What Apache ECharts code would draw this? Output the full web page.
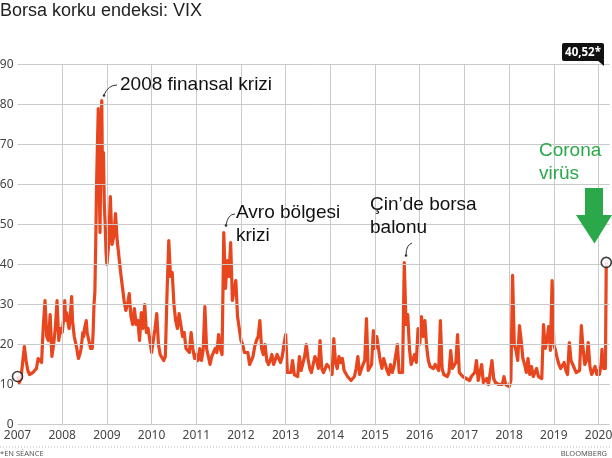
<!DOCTYPE html>
<html>
<head>
<meta charset="utf-8">
<script src="https://cdn.jsdelivr.net/npm/echarts@6/dist/echarts.min.js"></script>
<style>html,body{margin:0;padding:0;background:#fff}#c{width:612px;height:458px}</style>
</head>
<body>
<div id="c"></div>
<script>
// ---------- data ----------
const chartTitle = 'Borsa korku endeksi: VIX';
const xYears = [2007,2008,2009,2010,2011,2012,2013,2014,2015,2016,2017,2018,2019,2020];
const yTicks = [0,10,20,30,40,50,60,70,80,90];
const weeklyYears = [2008, 2020]; // other years: two-weekly readings

const vix2007 = [12,10.5,11.5,11,19.5,16,13.5,12.5,12.5,13,13,14,16.5,16,15.5,24.5,31,22,21,27.5,17,20,24,31,21,24];
const vix2008 = [23,25,27,31,26,28,27,25,24,26,29,32,26,24,22,21,20,19,17.5,16.5,17,18,19,21,23,22,24,25,26,23,22,21,21,19,20,19,23,30,33,45,60,70,79,62,48,66,81,60,68,55,50,43];
const vix2009 = [40,45,57,45,47,52.7,46,42,38,38.5,31,28.5,30,32.7,27,25,29,25,26,21,28,24,30,23,24,21];
const vix2010 = [18,21,24,27.7,20,17.5,17,16,17,33,46,37,38,30,26,24,27.7,25,22,23,19,18.5,18,23,19,16.5];
const vix2011 = [17.5,16,19,16,18.5,29.5,19,17,15,17,18,19,18,22.5,19,17.5,48,34,41,37,45.5,31,31,36,27,24];
const vix2012 = [21,20,18,17.5,18,15,15.5,17,19.5,21,22,26,19,17.5,20,16,15,16,17.5,15,15.5,17.5,18,15.5,17,20];
const vix2013 = [22.5,13,13.5,13,16,12.5,13,12,17,13.5,13.5,17,20,16.5,14,13,13,17,16,14,21,14,13,12.5,15,15.5];
const vix2014 = [14,12.5,21.5,15.5,14,17,15.5,16.5,13.5,13,12,11.5,11,11.5,12,14,17,12.5,12.5,15,16,26.5,13.5,13,15,23.5];
const vix2015 = [19,22,19,16,14,16.5,15,13.5,12.5,15,13,14.5,14,20,13,13,13,40.5,25,27.5,19,15,15.5,17.5,15.5,24];
const vix2016 = [20,27,22,26,19.5,16,14.5,15,14,15,14.5,13.5,26,14,12.5,12,12,13,18.5,14,14,15.5,22.5,13,12.5,12];
const vix2017 = [12,11.5,11,11,12,11.5,13,16,11,10.5,15,10.5,10.5,11.5,10,10.5,16,11.5,10.5,10,10,10,10,12,10,9.5];
const vix2018 = [9.5,11,37.3,20,18.5,16,24.7,21,16.5,15,13,16.5,12.5,14.5,12,13,14,12,12.5,11.5,25,19,21,24.5,18.5,36];
const vix2019 = [20,18.5,16.5,15,14,14,15.5,13.5,12.5,20.5,16,16.5,14,13,12.5,13.5,24.7,19,15,16,20.5,14.5,12.5,12.5,14.5,12.5];
const vix2020 = [13.5,12.5,12.5,15,18.8,15.5,14,15,14,40.52];

const lastLabel = '40,52*';
const noteCrisis = '2008 finansal krizi';
const noteEuro = ['Avro bölgesi', 'krizi'];
const noteChina = ['Çin’de borsa', 'balonu'];
const noteCorona = ['Corona', 'virüs'];
const footLeft = '*EN SÉANCE';
const footRight = 'BLOOMBERG';

// ---------- build ----------
const X_MIN = xYears[0], X_MAX = 2020.25;
const byYear = [vix2007,vix2008,vix2009,vix2010,vix2011,vix2012,vix2013,vix2014,vix2015,vix2016,vix2017,vix2018,vix2019,vix2020];
const pts = [];
xYears.forEach((y, k) => {
  const n = weeklyYears.includes(y) ? 52 : 26;
  byYear[k].forEach((v, i) => pts.push([y + i / n, v]));
});
const firstPt = pts[0], lastPt = pts[pts.length - 1];

const FONT = '"Liberation Sans", Arial, sans-serif';
const AXFONT = '"Noto Sans", sans-serif';
const GREEN = '#2aa84a';
const GRID = '#cacaca';

// horizontal and vertical grid lines, placed through the axes' scales
const hLines = yTicks.map(v => [{coord: [X_MIN, v]}, {coord: [X_MAX, v]}]);
const vLines = xYears.slice(1).map(y => [{coord: [y, yTicks[0]]}, {coord: [y, yTicks[yTicks.length - 1]]}]);

function txt(x, y, s, opt) {
  opt = opt || {};
  return {
    type: 'text', x: x, y: y, z: 20,
    style: {
      text: s,
      fill: opt.fill || '#111',
      font: opt.font || ('19px ' + FONT),
      textAlign: opt.align || 'left', align: opt.align || 'left',
      textVerticalAlign: 'middle', verticalAlign: 'middle'
    }
  };
}

const chart = echarts.init(document.getElementById('c'), null, {renderer: 'canvas'});
chart.setOption({
  animation: false,
  title: {
    text: chartTitle, left: 0, top: 2, padding: 0,
    textStyle: {fontSize: 18, fontWeight: 'normal', color: '#222', fontFamily: FONT}
  },
  grid: {left: 17.5, right: 2.3, top: 64.5, bottom: 33.5, containLabel: false, outerBoundsMode: 'none'},
  xAxis: {
    type: 'value', min: X_MIN, max: X_MAX, interval: 1,
    axisLine: {show: false}, axisTick: {show: false},
    axisLabel: {
      color: '#444', fontSize: 12, fontFamily: AXFONT, margin: 5, showMaxLabel: false,
      formatter: v => Math.abs(v - Math.round(v)) < 1e-6 && xYears.includes(Math.round(v)) ? String(Math.round(v)) : ''
    },
    splitLine: {show: false}
  },
  yAxis: {
    type: 'value', min: yTicks[0], max: yTicks[yTicks.length - 1], interval: 10,
    axisLine: {show: false}, axisTick: {show: false},
    axisLabel: {color: '#444', fontSize: 12, fontFamily: AXFONT, margin: 4},
    splitLine: {show: false}
  },
  series: [
    {
      type: 'line', data: pts, showSymbol: false, symbol: 'none', z: 3,
      lineStyle: {color: '#e8461e', width: 3.2, join: 'round'},
      markLine: {
        silent: true, symbol: ['none', 'none'], animation: false,
        label: {show: false},
        lineStyle: {color: GRID, width: 1, type: 'solid', opacity: 1},
        emphasis: {disabled: true},
        data: hLines.concat(vLines)
      }
    },
    {
      type: 'scatter', data: [firstPt, lastPt], symbol: 'circle', symbolSize: 10, z: 6,
      itemStyle: {color: '#fff', borderColor: '#111', borderWidth: 1.6}
    }
  ],
  graphic: [
    {type: 'rect', shape: {x: 562, y: 43, width: 42, height: 18, r: 2}, style: {fill: '#111'}, z: 20},
    {type: 'polygon', shape: {points: [[597, 60], [604, 60], [604, 66]]}, style: {fill: '#111'}, z: 20},
    txt(583, 52.5, lastLabel, {fill: '#fff', font: 'bold 11.5px ' + AXFONT, align: 'center'}),
    txt(120, 84.5, noteCrisis),
    {type: 'bezierCurve', shape: {x1: 117, y1: 85, x2: 104, y2: 95, cpx1: 108, cpy1: 85}, style: {stroke: '#333', lineWidth: 1, fill: null}, z: 20},
    {type: 'circle', shape: {cx: 104, cy: 95.5, r: 1.3}, style: {fill: '#333'}, z: 20},
    txt(236, 212.5, noteEuro[0]),
    txt(236, 235.5, noteEuro[1]),
    {type: 'bezierCurve', shape: {x1: 235, y1: 214, x2: 226, y2: 225, cpx1: 228, cpy1: 214}, style: {stroke: '#333', lineWidth: 1, fill: null}, z: 20},
    {type: 'circle', shape: {cx: 226, cy: 225.5, r: 1.3}, style: {fill: '#333'}, z: 20},
    txt(370, 204.5, noteChina[0]),
    txt(370, 227.5, noteChina[1]),
    {type: 'bezierCurve', shape: {x1: 412, y1: 243, x2: 406, y2: 255, cpx1: 406, cpy1: 245}, style: {stroke: '#333', lineWidth: 1, fill: null}, z: 20},
    {type: 'circle', shape: {cx: 406, cy: 255.5, r: 1.3}, style: {fill: '#333'}, z: 20},
    txt(539, 151, noteCorona[0], {fill: GREEN}),
    txt(539, 174, noteCorona[1], {fill: GREEN}),
    {type: 'polygon', shape: {points: [[585, 188], [603, 188], [603, 215], [612, 215], [594.5, 243.5], [576, 215], [585, 215]]}, style: {fill: GREEN}, z: 20},
    {type: 'line', shape: {x1: 0, y1: 447, x2: 612, y2: 447}, style: {stroke: '#b5b5b5', lineWidth: 1, lineDash: [1, 2]}, z: 20},
    txt(0, 454, footLeft, {fill: '#555', font: '7.5px ' + AXFONT}),
    txt(607, 454, footRight, {fill: '#555', font: '7.5px ' + AXFONT, align: 'right'})
  ]
});
</script>
</body>
</html>
